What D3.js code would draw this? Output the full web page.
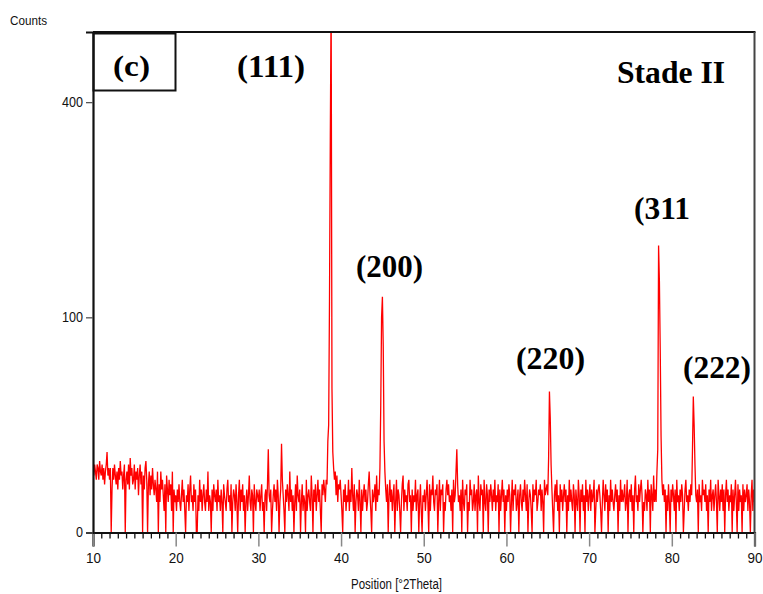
<!DOCTYPE html>
<html><head><meta charset="utf-8">
<script src="https://cdn.jsdelivr.net/npm/d3@7"></script>
<style>body{margin:0;background:#fff}svg{display:block}</style>
</head><body>
<svg id="chart" width="763" height="594"></svg>
<script>
// ---- data (2Theta from 10.0 to 90.0, step 0.1) ----
const angleStart = 10, angleStep = 0.1;
const counts10to20 = [
 9,7,10,8,6,10,9,6,11,8, 7,10,6,9,5,8,10,14,7,9, 6,9,0,4,9,6,10,7,5,8,
 4,9,6,11,7,8,4,7,10,0, 6,8,5,10,4,12,7,9,5,6, 10,4,8,6,9,3,7,10,5,8,
 0,7,4,9,11,6,0,5,8,3, 7,4,9,5,3,6,4,2,8,0, 5,2,8,4,6,3,1,5,0,7,
 4,2,6,3,5,1,8,0,4,2];
const counts20to30 = [
 3,1,4,2,5,2,1,3,6,2, 4,1,0,3,2,5,1,4,7,2, 3,1,5,2,4,0,0,3,1,6,
 2,4,1,3,5,2,1,4,2,8, 1,3,2,0,4,1,5,3,2,4, 1,6,2,3,1,4,2,0,5,3,
 2,1,4,6,2,3,1,5,0,2, 4,3,1,5,2,0,3,6,1,4, 2,5,1,3,0,2,4,1,3,7,
 2,1,4,3,0,5,2,1,4,3];
const counts30to40 = [
 2,4,1,3,5,1,2,0,3,4, 1,5,15,3,2,4,0,1,3,5, 2,4,1,6,3,0,2,4,17,6,
 3,1,0,4,2,5,3,1,8,2, 4,1,3,0,2,5,1,7,3,2, 4,0,2,5,1,3,2,0,6,1,
 3,4,2,1,7,3,0,4,2,5, 1,3,6,2,4,1,0,5,3,6, 4,2,6,5,18,25,115,340,620,45,
 14,9,6,8,3,7,2,5,4,6];
const counts40to50 = [
 3,1,0,4,2,5,1,3,2,6, 1,4,2,9,3,1,5,0,2,4, 3,1,6,2,0,4,1,3,5,2,
 4,1,2,5,8,3,1,0,4,2, 3,5,1,7,2,4,3,9,35,100, 120,75,18,8,4,2,5,0,3,6,
 2,4,1,3,5,0,2,6,1,4, 3,1,0,2,5,7,1,4,2,3, 1,5,6,2,3,0,4,1,3,2,
 6,1,3,4,0,2,5,1,0,3];
const counts50to60 = [
 2,4,1,3,6,2,0,5,1,4, 3,7,2,1,4,3,5,0,2,6, 1,4,3,5,0,2,1,4,6,3,
 5,2,3,1,4,0,6,2,3,8, 15,5,2,3,1,4,0,6,2,1, 4,3,5,0,2,1,6,3,4,1,
 2,5,1,3,4,0,7,2,1,5, 3,4,0,6,2,1,5,3,0,4, 2,5,3,1,4,2,6,1,3,2,
 5,0,4,1,3,6,2,4,0,3];
const counts60to70 = [
 1,4,2,5,3,0,2,6,1,4, 3,5,1,2,4,0,3,5,2,1, 4,2,6,3,1,5,0,2,4,3,
 1,0,5,2,4,3,6,1,2,4, 3,5,1,4,2,0,6,3,4,5, 3,12,43,28,10,4,1,0,3,5,
 2,6,1,3,0,5,2,4,1,3, 5,2,4,0,3,1,6,2,4,2, 1,5,3,0,4,2,1,6,3,0,
 4,2,5,1,3,0,6,2,4,1];
const counts70to80 = [
 3,5,1,4,2,3,6,0,1,4, 2,4,5,3,1,0,2,6,3,1, 5,2,4,0,3,1,6,2,4,2,
 1,3,5,2,4,0,3,1,6,2, 4,2,3,5,1,2,6,0,3,4, 2,5,1,3,0,4,7,2,3,1,
 5,2,4,6,3,0,2,1,4,3, 1,6,2,4,0,5,3,1,7,2, 4,2,8,15,178,136,72,20,6,3,
 5,2,4,0,3,1,5,2,0,4];
const counts80to90 = [
 2,5,3,1,4,0,6,2,3,1, 4,2,5,3,0,1,4,6,2,3, 1,4,2,5,3,15,40,25,10,3,
 2,4,0,5,2,3,1,6,3,4, 2,5,1,3,0,4,2,6,1,3, 4,1,3,5,2,0,6,3,1,4,
 2,5,1,4,0,3,6,2,4,1, 3,2,5,0,4,1,3,6,2,0, 5,1,4,2,3,0,5,1,4,2,
 3,5,1,4,2,0,3,6,1,4, 2];
const xTickValues = [10,20,30,40,50,60,70,80,90];
const yTickValues = [0,100,400];
const peakLabels = ["(111)","(200)","(220)","(311","(222)"];
const sampleLabel = "(c)";
const stageLabel = "Stade II";
const yTitle = "Counts";
const xTitle = "Position [°2Theta]";

// ---- layout ----
const L = 93, R = 754.5, T = 32, B = 532.5;
// [left x, baseline y, text width]
const peakLabelLayout = [[237,77,68],[356,277,67],[516,369,69],[634,219,56],[683,378,68]];

const allCounts = [].concat(counts10to20,counts20to30,counts30to40,counts40to50,
  counts50to60,counts60to70,counts70to80,counts80to90);
const data = allCounts.map((c,i)=>({a: angleStart + i*angleStep, c}));

const svg = d3.select("#chart");
const x = d3.scaleLinear().domain([10,90]).range([L,R]);
const y = d3.scaleSqrt().domain([0,541]).range([B,T]);

svg.append("defs").append("clipPath").attr("id","clip")
  .append("rect").attr("x",L).attr("y",T).attr("width",R-L).attr("height",B-T);

// data line
svg.append("path").datum(data)
  .attr("clip-path","url(#clip)")
  .attr("fill","none").attr("stroke","#ff0000").attr("stroke-width",1.3)
  .attr("stroke-linejoin","miter")
  .attr("d", d3.line().x(d=>x(d.a)).y(d=>y(d.c)));

const axisFont = "'Liberation Sans',Arial,sans-serif";

// frame top & right
svg.append("line").attr("x1",L).attr("x2",R+1).attr("y1",T).attr("y2",T)
  .attr("stroke","#111").attr("stroke-width",2);
svg.append("line").attr("x1",R).attr("x2",R).attr("y1",T).attr("y2",B)
  .attr("stroke","#444").attr("stroke-width",2);

// minor x ticks
const minor = d3.range(10,91,1).filter(v=>v%10!==0);
svg.append("g").attr("transform",`translate(0,${B})`)
  .call(d3.axisBottom(x).tickValues(minor).tickSize(6).tickFormat(""))
  .call(g=>{g.select(".domain").remove(); g.selectAll("line").attr("stroke","#111").attr("stroke-width",1.3);});

// major x ticks
const gx = svg.append("g").attr("transform",`translate(0,${B})`)
  .call(d3.axisBottom(x).tickValues(xTickValues).tickSize(14).tickPadding(6).tickFormat(d3.format("d")));
gx.select(".domain").attr("stroke","#111").attr("stroke-width",2.2);
gx.selectAll("line").attr("stroke","#888").attr("stroke-width",1.5);
gx.selectAll("text").attr("font-family",axisFont).attr("font-size",15).attr("fill","#111")
  .attr("textLength",d=>d<100?15:22).attr("lengthAdjust","spacingAndGlyphs");

// y axis
const gy = svg.append("g").attr("transform",`translate(${L},0)`)
  .call(d3.axisLeft(y).tickValues(yTickValues).tickSize(7).tickPadding(3).tickFormat(d3.format("d")));
gy.select(".domain").attr("stroke","#111").attr("stroke-width",2.2);
gy.selectAll("line").attr("stroke","#555").attr("stroke-width",1.3);
gy.selectAll("text").attr("font-family",axisFont).attr("font-size",14).attr("fill","#111")
  .attr("textLength",d=>d>=100?21:7).attr("lengthAdjust","spacingAndGlyphs");

// titles
svg.append("text").attr("x",10).attr("y",25).text(yTitle)
  .attr("font-family",axisFont).attr("font-size",13).attr("fill","#111")
  .attr("textLength",37).attr("lengthAdjust","spacingAndGlyphs");
svg.append("text").attr("x",351).attr("y",589).text(xTitle)
  .attr("font-family",axisFont).attr("font-size",14).attr("fill","#111")
  .attr("textLength",91).attr("lengthAdjust","spacingAndGlyphs");

// sample box
svg.append("rect").attr("x",L+0.5).attr("y",T+1.5).attr("width",82).attr("height",57)
  .attr("fill","none").attr("stroke","#111").attr("stroke-width",2);
const serif = "'Liberation Serif','Times New Roman',serif";
svg.append("text").attr("x",113).attr("y",76).text(sampleLabel)
  .attr("font-family",serif).attr("font-weight","bold").attr("font-size",30).attr("fill","#000")
  .attr("textLength",37).attr("lengthAdjust","spacingAndGlyphs");
svg.append("text").attr("x",617).attr("y",83).text(stageLabel)
  .attr("font-family",serif).attr("font-weight","bold").attr("font-size",31).attr("fill","#000")
  .attr("textLength",108).attr("lengthAdjust","spacingAndGlyphs");

svg.selectAll("text.peak").data(peakLabels).enter().append("text")
  .attr("class","peak")
  .attr("x",(d,i)=>peakLabelLayout[i][0]).attr("y",(d,i)=>peakLabelLayout[i][1])
  .attr("textLength",(d,i)=>peakLabelLayout[i][2]).attr("lengthAdjust","spacingAndGlyphs")
  .text(d=>d)
  .attr("font-family",serif).attr("font-weight","bold").attr("font-size",31).attr("fill","#000");
</script>
</body></html>
